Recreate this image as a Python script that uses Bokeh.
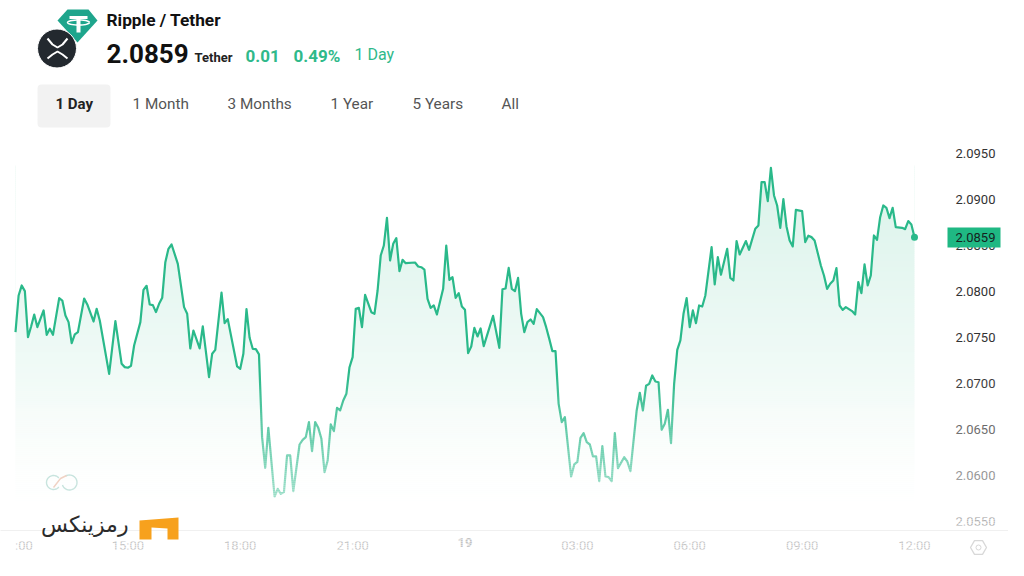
import numpy as np

from bokeh.embed import file_html
from bokeh.models import FixedTicker, Label, LinearAxis, Range1d
from bokeh.plotting import figure
from bokeh.resources import INLINE

# minutes since 12:00 of the previous day
TIMES = [
    0, 5, 10, 15, 20, 25, 30, 35, 45, 50,
    55, 60, 70, 75, 80, 85, 90, 95, 100, 110,
    115, 125, 130, 135, 150, 160, 170, 175, 180, 185,
    190, 200, 205, 210, 215, 220, 225, 230, 235, 240,
    245, 250, 260, 270, 275, 280, 285, 295, 300, 310,
    315, 320, 330, 335, 340, 355, 360, 365, 370, 375,
    380, 385, 390, 395, 400, 405, 415, 420, 425, 430,
    435, 440, 445, 455, 460, 465, 470, 475, 480, 485,
    490, 495, 500, 505, 510, 515, 520,
    525, 530, 535, 540, 545, 550, 555, 560, 570, 575,
    580, 585, 590, 595, 600, 605, 610, 615, 620, 625,
    640, 645, 650, 655, 660, 665, 670, 675, 685, 690,
    695, 700, 705, 710, 715, 720, 725, 730, 735, 740,
    745, 750, 765, 775, 780, 785, 790, 795, 800, 805,
    810, 815, 820, 825, 830, 835, 845, 850, 855, 860,
    865, 870, 875, 880, 890, 895, 900, 905, 910, 915,
    920, 925, 930, 935, 940, 945, 950, 955, 960, 965,
    975, 980, 985, 995, 1000, 1005, 1010, 1015, 1020, 1025,
    1030,
    1035, 1040, 1045, 1050, 1055, 1060, 1065, 1070, 1075, 1080,
    1085, 1090, 1095, 1100, 1105, 1115, 1120, 1125, 1130, 1140,
    1145, 1150, 1155, 1160, 1170, 1175, 1185, 1190, 1195, 1200,
    1205, 1210, 1215, 1220, 1225, 1230, 1235, 1240, 1245, 1250,
    1260, 1265, 1270, 1275, 1280, 1290, 1295, 1300, 1305, 1310,
    1315, 1320, 1325, 1330, 1340, 1345, 1350, 1355, 1360, 1365,
    1370, 1375, 1380, 1385, 1390, 1395, 1400, 1405, 1410, 1420,
    1425, 1430, 1435, 1440,
]
PRICES = [
    2.07558, 2.07957, 2.08066, 2.08004, 2.07504, 2.07620, 2.07750, 2.07613, 2.07794, 2.07529,
    2.07595, 2.07529, 2.07928, 2.07902, 2.07739, 2.07667, 2.07439, 2.07533, 2.07558, 2.07924,
    2.07859, 2.07674, 2.07812, 2.07685, 2.07105, 2.07678, 2.07214, 2.07178, 2.07171, 2.07192,
    2.07413, 2.07667, 2.08018, 2.08062, 2.07859, 2.07852, 2.07776, 2.07866, 2.07931, 2.08319,
    2.08464, 2.08511, 2.08301, 2.07830, 2.07758, 2.07381, 2.07576, 2.07381, 2.07620, 2.07069,
    2.07323, 2.07366, 2.07989, 2.07656, 2.07700, 2.07185, 2.07160, 2.07323, 2.07808, 2.07497,
    2.07377, 2.07374, 2.07316, 2.06417, 2.06084, 2.06518, 2.05772, 2.05855, 2.05801, 2.05819,
    2.06218, 2.06218, 2.05830, 2.06337, 2.06388, 2.06417, 2.06580, 2.06265, 2.06580, 2.06518,
    2.06399, 2.06037, 2.06163, 2.06555, 2.06482, 2.06736, 2.06707,
    2.06815, 2.06888, 2.07177, 2.07286, 2.07812, 2.07822, 2.07612, 2.07964, 2.07775, 2.07757,
    2.08011, 2.08391, 2.08500, 2.08801, 2.08337, 2.08518, 2.08580, 2.08221, 2.08344, 2.08308,
    2.08315, 2.08272, 2.08264, 2.08239, 2.07920, 2.07822, 2.07848, 2.07750, 2.08029, 2.08500,
    2.08127, 2.08156, 2.07931, 2.07982, 2.07837, 2.07801, 2.07330, 2.07402, 2.07605, 2.07511,
    2.07598, 2.07406, 2.07735, 2.07388, 2.08025, 2.08033, 2.08257, 2.08029, 2.08004, 2.08148,
    2.07757, 2.07558, 2.07667, 2.07696, 2.07648, 2.07808, 2.07721, 2.07612, 2.07485, 2.07351,
    2.07351, 2.06779, 2.06580, 2.06634, 2.05989, 2.06120, 2.06149, 2.06409, 2.06460, 2.06362,
    2.06337, 2.06207, 2.06207, 2.05938, 2.06319, 2.05989, 2.05982, 2.05938, 2.06460, 2.06080,
    2.06199, 2.06152, 2.06047, 2.06707, 2.06899, 2.06707, 2.06975, 2.06996, 2.07087, 2.07022,
    2.07014,
    2.06497, 2.06562, 2.06714, 2.06352, 2.06997, 2.07366, 2.07468, 2.07758, 2.07928, 2.07613,
    2.07794, 2.07656, 2.07848, 2.07837, 2.07957, 2.08482, 2.08077, 2.08374, 2.08182, 2.08464,
    2.08149, 2.08120, 2.08548, 2.08403, 2.08548, 2.08453, 2.08682, 2.08718, 2.09189, 2.09189,
    2.08982, 2.09345, 2.09044, 2.08935, 2.08692, 2.09004, 2.08707, 2.08555, 2.08490, 2.08888,
    2.08874, 2.08537, 2.08606, 2.08591, 2.08555, 2.08283, 2.08174, 2.08029, 2.08084, 2.08120,
    2.08254, 2.07848, 2.07801, 2.07830, 2.07787, 2.07750, 2.08102, 2.07982, 2.08294, 2.08066,
    2.08174, 2.08609, 2.08562, 2.08808, 2.08935, 2.08910, 2.08798, 2.08910, 2.08700, 2.08692,
    2.08678, 2.08765, 2.08729, 2.0859,
]

Y_TICKS = [2.055, 2.06, 2.065, 2.07, 2.075, 2.08, 2.085, 2.09, 2.095]
Y_LABELS = ["2.0550", "2.0600", "2.0650", "2.0700", "2.0750", "2.0800", "2.0850", "2.0900", "2.0950"]
X_TICKS = [0, 180, 360, 540, 900, 1080, 1260, 1440]
X_LABELS = ["12:00", "15:00", "18:00", "21:00", "03:00", "06:00", "09:00", "12:00"]
DAY_TICK = 720
DAY_LABEL = "19"

PERIODS = ["1 Day", "1 Month", "3 Months", "1 Year", "5 Years", "All"]

GREEN = "#2ab98a"
FONT = "Roboto"


# page pixels -> data, only for the page furniture (logos, header)
def to_x(px):
    return (px - 15) / 0.6243


def to_y(py):
    return 2.095 - (py - 153) / 9200


def mix(alpha):
    r, g, b = 38, 184, 132
    c = [int(round(255 + (v - 255) * alpha)) for v in (r, g, b)]
    return "#%02x%02x%02x" % tuple(c)


p = figure(
    width=1008, height=560,
    x_range=Range1d(to_x(0), to_x(1008)),
    y_range=Range1d(to_y(560), to_y(0)),
    x_axis_location=None, y_axis_location=None,
    output_backend="svg", toolbar_location=None,
    min_border=0,
)
p.outline_line_color = None
p.grid.visible = False
p.background_fill_color = "white"
p.border_fill_color = "white"

# axes sit inside the frame, so the bottom fade runs over their labels too
y_axis = LinearAxis(
    fixed_location=to_x(955),
    ticker=FixedTicker(ticks=Y_TICKS),
    major_label_overrides=dict(zip(Y_TICKS, Y_LABELS)),
    major_label_text_font=FONT, major_label_text_font_size="13px",
    major_label_text_color="#333333", major_label_standoff=0,
    major_tick_out=0, major_tick_in=0,
    axis_line_color=None, major_tick_line_color=None, minor_tick_line_color=None,
)
p.add_layout(y_axis, "right")

x_axis = LinearAxis(
    fixed_location=to_y(530),
    ticker=FixedTicker(ticks=X_TICKS),
    major_label_overrides=dict(zip(X_TICKS, X_LABELS)),
    major_label_text_font=FONT, major_label_text_font_size="13px",
    major_label_text_color="#5a5a5a", major_label_standoff=7,
    major_tick_out=0, major_tick_in=0,
    axis_line_color="#d8d8d8", major_tick_line_color=None, minor_tick_line_color=None,
)
p.add_layout(x_axis, "below")

day_axis = LinearAxis(
    fixed_location=to_y(530),
    ticker=FixedTicker(ticks=[DAY_TICK]),
    major_label_overrides={DAY_TICK: DAY_LABEL},
    major_label_text_font=FONT, major_label_text_font_size="13px",
    major_label_text_font_style="bold",
    major_label_text_color="#5a5a5a", major_label_standoff=7,
    major_tick_out=0, major_tick_in=0,
    axis_line_color=None, major_tick_line_color=None, minor_tick_line_color=None,
)
p.add_layout(day_axis, "below")

# area fill: opaque strips fading downwards, white mask above the line
strip_y = np.arange(165, 505, 2)
p.quad(
    left=TIMES[0], right=TIMES[-1],
    top=to_y(strip_y), bottom=to_y(strip_y + 2.5),
    fill_color=[mix(0.17 * (505 - y) / 340) for y in strip_y],
    line_color=None,
)
p.varea(x=TIMES, y1=PRICES, y2=to_y(150), fill_color="white")

p.line(TIMES, PRICES, line_color=GREEN, line_width=2.2, line_join="round")
p.scatter([TIMES[-1]], [PRICES[-1]], size=7, fill_color=GREEN, line_color=None)

# white fade over the lower part of the chart and its labels
fade_y = np.arange(370, 560, 2)
p.quad(
    left=to_x(0), right=to_x(1008),
    top=to_y(fade_y), bottom=to_y(fade_y + 2),
    fill_color="white",
    fill_alpha=[min(0.8, (y - 370) * 0.005) for y in fade_y],
    line_color=None, level="overlay",
)

# the first tick label is cut at the left edge of the chart
p.quad(
    left=to_x(0), right=to_x(15), top=to_y(535), bottom=to_y(560),
    fill_color="white", line_color=None, level="overlay",
)

# current price badge, covers the 2.0850 tick label
p.quad(
    left=to_x(947), right=to_x(1000), top=to_y(227), bottom=to_y(247),
    fill_color="#1fb883", line_color=None, level="overlay",
)


def text(px, py, s, size, color="#111111", bold=False, align="left", font=FONT):
    p.add_layout(Label(
        x=to_x(px), y=to_y(py), text=s,
        text_font=font, text_font_size=f"{size}px",
        text_font_style="bold" if bold else "normal",
        text_color=color, text_align=align, text_baseline="middle",
        level="overlay",
    ))


text(955, 237, "2.0859", 13, color="#15231e")

# header
text(106, 19, "Ripple / Tether", 17.3, bold=True)
text(106, 53, "2.0859", 26, bold=True)
text(194, 57, "Tether", 13, color="#222222", bold=True)
text(245, 55, "0.01", 17, color="#2fb98a", bold=True)
text(293, 55, "0.49%", 17, color="#2fb98a", bold=True)
text(354, 54, "1 Day", 16, color="#2fb98a")

# period buttons
p.quad(
    left=to_x(41), right=to_x(106), top=to_y(88), bottom=to_y(123),
    fill_color="#f2f2f2", line_color="#f2f2f2", line_width=8, line_join="round",
)
period_x = [55, 132, 227, 330, 412, 501]
for i, (name, px) in enumerate(zip(PERIODS, period_x)):
    text(px, 103, name, 15.3 if i else 15, color="#222222" if i == 0 else "#555555", bold=i == 0)

# tether logo
gem_x = [67, 88, 97, 77, 57]
gem_y = [9, 9, 20, 42, 20]
p.patch(to_x(np.array(gem_x)), to_y(np.array(gem_y)), fill_color="#1ea58c", line_color=None)
p.segment(to_x(69), to_y(17), to_x(87), to_y(17), line_color="white", line_width=3)
p.segment(to_x(78), to_y(17), to_x(78), to_y(32), line_color="white", line_width=4)
t = np.linspace(0, 2 * np.pi, 30)
p.line(to_x(78 + 11 * np.cos(t)), to_y(22 + 2.5 * np.sin(t)), line_color="white", line_width=1.5)

# xrp logo
p.scatter(to_x(56.5), to_y(48), size=39, fill_color="#23292f", line_color="white", line_width=1)
for ys in ([38, 44, 47, 44, 38], [58, 54, 51, 54, 58]):
    p.line(to_x(np.array([47, 52, 57, 62, 67])), to_y(np.array(ys)), line_color="white", line_width=2)

# loop watermark inside the chart
t = np.radians(np.linspace(40, 320, 30))
p.line(to_x(53 + 7 * np.cos(t)), to_y(482 - 7 * np.sin(t)), line_color="#c8e4de", line_width=1.4, level="overlay")
t = np.radians(np.linspace(120, -160, 30))
p.line(to_x(69 + 7.5 * np.cos(t)), to_y(482 - 7.5 * np.sin(t)), line_color="#c8e4de", line_width=1.4, level="overlay")
p.line(to_x(np.array([53, 60, 66])), to_y(np.array([487, 478, 475])), line_color="#f0d2c4", line_width=1.4, level="overlay")

# brand mark
brand_x = [139, 178, 178, 167, 167, 151, 151, 139]
brand_y = [520, 517, 539, 539, 528, 527, 539, 539]
p.patch(to_x(np.array(brand_x)), to_y(np.array(brand_y)), fill_color="#f7a11d", line_color=None, level="overlay")
text(128, 524, "رمزینکس", 22, color="#2b2b2b", align="right", font="DejaVu Sans")

# settings icon
p.scatter(to_x(978), to_y(547), size=16, marker="hex", fill_color=None, line_color="#d8d8d8", line_width=1.3, level="overlay")
p.scatter(to_x(978), to_y(547), size=5, fill_color=None, line_color="#d8d8d8", line_width=1, level="overlay")

open("out.html", "w").write(file_html(p, INLINE))
